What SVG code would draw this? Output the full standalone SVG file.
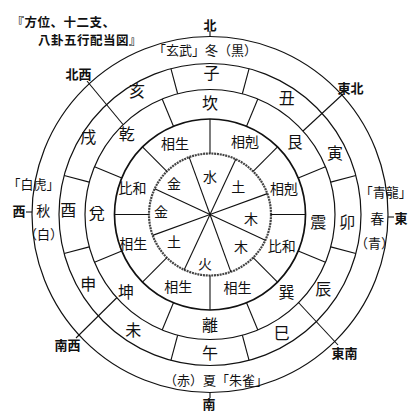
<svg xmlns="http://www.w3.org/2000/svg" width="420" height="416" viewBox="0 0 420 416">
<style>
text{font-family:"Noto Sans CJK JP","Noto Sans CJK SC",sans-serif;fill:#111;text-anchor:middle}
.b{font-size:16px}
.r{font-size:14px}
.s{font-size:14px}
.k{font-size:13px}
.k2{font-size:13px;text-anchor:start}
.d{font-size:13px;font-weight:bold}
.t{font-size:12.5px;font-weight:bold;text-anchor:start;letter-spacing:0.5px}
.c{fill:none;stroke:#111;stroke-width:1.2}
.ln{stroke:#111;stroke-width:1.1}
</style>
<rect width="420" height="416" fill="#fff"/>
<g id="rings" transform="translate(210,214.5)">
<circle class="c" r="178"/>
<circle class="c" r="151"/>
<circle class="c" r="125"/>
<circle class="c" r="95.5" style="stroke-width:1.7"/>
<circle r="61" fill="none" stroke="#444" stroke-width="2.2" stroke-dasharray="2 0.8"/>
</g>
<g id="connectors">
<g transform="translate(210,214.5)">
<g id="inner-dividers">
<line class="ln" x1="0" y1="0" x2="0" y2="-61" transform="rotate(25)"/>
<line class="ln" x1="0" y1="0" x2="0" y2="-61" transform="rotate(70)"/>
<line class="ln" x1="0" y1="0" x2="0" y2="-61" transform="rotate(115)"/>
<line class="ln" x1="0" y1="0" x2="0" y2="-61" transform="rotate(160)"/>
<line class="ln" x1="0" y1="0" x2="0" y2="-61" transform="rotate(205)"/>
<line class="ln" x1="0" y1="0" x2="0" y2="-61" transform="rotate(250)"/>
<line class="ln" x1="0" y1="0" x2="0" y2="-61" transform="rotate(295)"/>
<line class="ln" x1="0" y1="0" x2="0" y2="-61" transform="rotate(340)"/>
</g>
<g id="relation-dividers">
<line class="ln" x1="0" y1="-61" x2="0" y2="-95.5"/>
<line class="ln" x1="0" y1="-61" x2="0" y2="-95.5" transform="rotate(45)"/>
<line class="ln" x1="0" y1="-61" x2="0" y2="-95.5" transform="rotate(90)"/>
<line class="ln" x1="0" y1="-61" x2="0" y2="-95.5" transform="rotate(135)"/>
<line class="ln" x1="0" y1="-61" x2="0" y2="-95.5" transform="rotate(180)"/>
<line class="ln" x1="0" y1="-61" x2="0" y2="-95.5" transform="rotate(225)"/>
<line class="ln" x1="0" y1="-61" x2="0" y2="-95.5" transform="rotate(270)"/>
<line class="ln" x1="0" y1="-61" x2="0" y2="-95.5" transform="rotate(315)"/>
</g>
<g id="trigram-dividers">
<line class="ln" x1="0" y1="-95.5" x2="0" y2="-125" transform="rotate(22.5)"/>
<line class="ln" x1="0" y1="-95.5" x2="0" y2="-125" transform="rotate(67.5)"/>
<line class="ln" x1="0" y1="-95.5" x2="0" y2="-125" transform="rotate(112.5)"/>
<line class="ln" x1="0" y1="-95.5" x2="0" y2="-125" transform="rotate(157.5)"/>
<line class="ln" x1="0" y1="-95.5" x2="0" y2="-125" transform="rotate(202.5)"/>
<line class="ln" x1="0" y1="-95.5" x2="0" y2="-125" transform="rotate(247.5)"/>
<line class="ln" x1="0" y1="-95.5" x2="0" y2="-125" transform="rotate(292.5)"/>
<line class="ln" x1="0" y1="-95.5" x2="0" y2="-125" transform="rotate(337.5)"/>
</g>
<g id="branch-dividers">
<line class="ln" x1="0" y1="-125" x2="0" y2="-151" transform="rotate(15)"/>
<line class="ln" x1="0" y1="-125" x2="0" y2="-151" transform="rotate(75)"/>
<line class="ln" x1="0" y1="-125" x2="0" y2="-151" transform="rotate(105)"/>
<line class="ln" x1="0" y1="-125" x2="0" y2="-151" transform="rotate(165)"/>
<line class="ln" x1="0" y1="-125" x2="0" y2="-151" transform="rotate(195)"/>
<line class="ln" x1="0" y1="-125" x2="0" y2="-151" transform="rotate(255)"/>
<line class="ln" x1="0" y1="-125" x2="0" y2="-151" transform="rotate(285)"/>
<line class="ln" x1="0" y1="-125" x2="0" y2="-151" transform="rotate(345)"/>
</g>
</g>
<g id="direction-lines">
<line class="ln" x1="123" y1="124.5" x2="87" y2="81"/>
<line class="ln" x1="303" y1="131" x2="343" y2="94"/>
<line class="ln" x1="298" y1="302" x2="338" y2="345"/>
<line class="ln" x1="117" y1="297.5" x2="76" y2="338"/>
<line class="ln" x1="210" y1="31" x2="210" y2="36.5"/>
<line class="ln" x1="210" y1="392.5" x2="210" y2="398"/>
<line class="ln" x1="26" y1="212" x2="32" y2="212"/>
<line class="ln" x1="388" y1="217" x2="394" y2="217"/>
</g>
</g>
<g id="title">
<text class="t" x="11.5" y="26.8">『方位、十二支、</text>
<text class="t" x="38" y="45">八卦五行配当図』</text>
</g>
<g id="directions">
<text class="d" x="210" y="30">北</text>
<text class="d" x="209" y="409">南</text>
<text class="d" x="401" y="222.5">東</text>
<text class="d" x="19" y="216">西</text>
<text class="d" x="78.5" y="78.5">北西</text>
<text class="d" x="350.5" y="92.5">東北</text>
<text class="d" x="344.5" y="357.5">東南</text>
<text class="d" x="67.5" y="350">南西</text>
</g>
<g id="seasons">
<text class="k2" x="153" y="55">「玄武」冬（黒）</text>
<text class="k" x="385.7" y="196.7">「青龍」</text>
<text class="s" x="377.3" y="223.6">春</text>
<text class="k" x="374.5" y="247.5">（青）</text>
<text class="k" x="33.5" y="189.3">「白虎」</text>
<text class="s" x="43.3" y="216">秋</text>
<text class="k" x="43.5" y="239.3">（白）</text>
<text class="k2" x="164" y="385">（赤）夏「朱雀」</text>
</g>
<g id="branches">
<text class="b" x="211.5" y="79.3">子</text>
<text class="b" x="286.7" y="104.3">丑</text>
<text class="b" x="335" y="159.3">寅</text>
<text class="b" x="347.3" y="227.7">卯</text>
<text class="b" x="323.3" y="295.3">辰</text>
<text class="b" x="281.7" y="339.3">巳</text>
<text class="b" x="210" y="359.3">午</text>
<text class="b" x="133.3" y="335.5">未</text>
<text class="b" x="88.3" y="290.3">申</text>
<text class="b" x="68.3" y="216">酉</text>
<text class="b" x="88.3" y="142.7">戌</text>
<text class="b" x="137" y="97">亥</text>
</g>
<g id="trigrams">
<text class="b" x="210" y="109.3">坎</text>
<text class="b" x="295" y="148">艮</text>
<text class="b" x="318.3" y="227.7">震</text>
<text class="b" x="286.5" y="298">巽</text>
<text class="b" x="210" y="331">離</text>
<text class="b" x="126" y="297.5">坤</text>
<text class="b" x="96.7" y="219.3">兌</text>
<text class="b" x="126.7" y="140">乾</text>
</g>
<g id="relations">
<text class="r" x="175" y="148.6">相生</text>
<text class="r" x="245" y="147">相剋</text>
<text class="r" x="284" y="193.6">相剋</text>
<text class="r" x="281.7" y="251.3">比和</text>
<text class="r" x="237.5" y="292.8">相生</text>
<text class="r" x="178.3" y="292.3">相生</text>
<text class="r" x="133.3" y="248.6">相生</text>
<text class="r" x="132.5" y="192.8">比和</text>
</g>
<g id="elements">
<text class="r" x="210" y="182">水</text>
<text class="r" x="238.3" y="192">土</text>
<text class="r" x="251" y="223.8">木</text>
<text class="r" x="241" y="252">木</text>
<text class="r" x="205" y="268.6">火</text>
<text class="r" x="174" y="247">土</text>
<text class="r" x="161" y="217">金</text>
<text class="r" x="174" y="189">金</text>
</g>
</svg>
